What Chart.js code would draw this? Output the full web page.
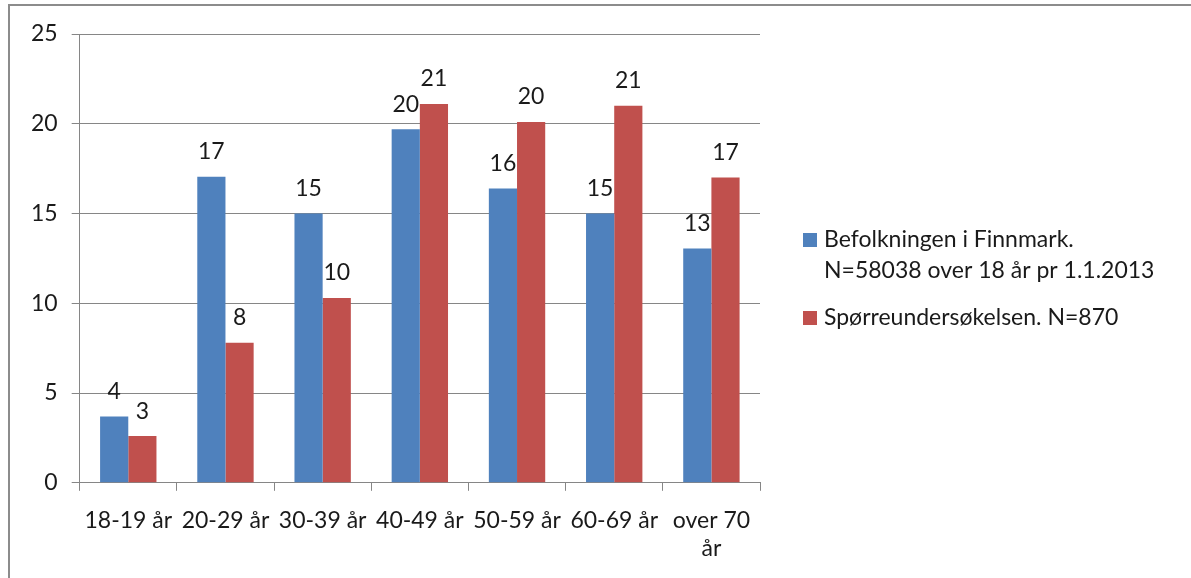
<!DOCTYPE html>
<html><head><meta charset="utf-8">
<script src="https://cdn.jsdelivr.net/npm/chart.js@4/dist/chart.umd.min.js"></script>
<style>
html,body{margin:0;padding:0;background:#fff;}
#wrap{position:relative;width:1191px;height:578px;overflow:hidden;}
canvas{position:absolute;left:0;top:0;}
</style></head><body>
<div id="wrap"><canvas id="c" width="1191" height="578"></canvas></div>
<script>
// Age groups and percentage shares
const categories = ['18-19 år', '20-29 år', '30-39 år', '40-49 år', '50-59 år', '60-69 år', ['over 70', 'år']];
const befolkning = [3.7, 17.05, 15.0, 19.7, 16.4, 15.0, 13.05];
const undersokelse = [2.6, 7.8, 10.3, 21.1, 20.1, 21.0, 17.0];
const seriesNames = [
  ['Befolkningen i Finnmark.', 'N=58038 over 18 år pr 1.1.2013'],
  ['Spørreundersøkelsen. N=870']
];
const yTicks = [0, 5, 10, 15, 20, 25];

const BLUE = '#4F81BD';
const RED = '#C0504D';
const GRID = '#868686';
const TEXT = '#1a1a1a';
const FONT = { family: 'Lato, "Open Sans", sans-serif', size: 23 };

// Outer frame around the chart
const framePlugin = {
  id: 'frame',
  beforeDraw(chart) {
    const ctx = chart.ctx;
    ctx.save();
    ctx.fillStyle = '#fff';
    ctx.fillRect(0, 0, chart.width, chart.height);
    ctx.strokeStyle = '#8c8c8c';
    ctx.lineWidth = 2;
    ctx.beginPath();
    ctx.moveTo(9, chart.height);
    ctx.lineTo(9, 5);
    ctx.lineTo(chart.width, 5);
    ctx.stroke();
    ctx.restore();
  }
};

// Rounded value labels above each bar
const valueLabels = {
  id: 'valueLabels',
  afterDatasetsDraw(chart) {
    const ctx = chart.ctx;
    ctx.save();
    ctx.font = FONT.size + 'px ' + FONT.family;
    ctx.fillStyle = TEXT;
    ctx.textAlign = 'center';
    ctx.textBaseline = 'middle';
    chart.data.datasets.forEach((ds, i) => {
      chart.getDatasetMeta(i).data.forEach((bar, j) => {
        ctx.fillText(String(Math.round(ds.data[j])), bar.x, bar.y - 25);
      });
    });
    ctx.restore();
  }
};

// Legend on the right, with multi-line entries
const sideLegend = {
  id: 'sideLegend',
  afterDraw(chart) {
    const ctx = chart.ctx;
    const x0 = 803;
    const tops = [240, 318];
    ctx.save();
    ctx.font = FONT.size + 'px ' + FONT.family;
    ctx.textBaseline = 'middle';
    ctx.textAlign = 'left';
    chart.data.datasets.forEach((ds, i) => {
      const y = tops[i];
      ctx.fillStyle = ds.backgroundColor;
      ctx.fillRect(x0, y - 7, 14, 14);
      ctx.fillStyle = TEXT;
      const lines = Array.isArray(ds.label) ? ds.label : [ds.label];
      lines.forEach((ln, k) => ctx.fillText(ln, x0 + 21, y + k * 31));
    });
    ctx.restore();
  }
};

new Chart(document.getElementById('c'), {
  type: 'bar',
  data: {
    labels: categories,
    datasets: [
      { label: seriesNames[0], data: befolkning, backgroundColor: BLUE, categoryPercentage: 0.58, barPercentage: 1.0 },
      { label: seriesNames[1], data: undersokelse, backgroundColor: RED, categoryPercentage: 0.58, barPercentage: 1.0 }
    ]
  },
  options: {
    responsive: false,
    animation: false,
    layout: { padding: { left: 17, top: 34, right: 431, bottom: 0 } },
    plugins: { legend: { display: false }, tooltip: { enabled: false } },
    scales: {
      x: {
        grid: { drawOnChartArea: false, offset: true, tickLength: 8, color: GRID },
        border: { color: GRID },
        ticks: { font: FONT, color: TEXT, padding: 16, maxRotation: 0, autoSkip: false }
      },
      y: {
        min: yTicks[0],
        max: yTicks[yTicks.length - 1],
        afterBuildTicks(scale) { scale.ticks = yTicks.map(v => ({ value: v })); },
        grid: { color: GRID, tickLength: 8 },
        border: { color: GRID },
        ticks: { font: FONT, color: TEXT, padding: 14 }
      }
    }
  },
  plugins: [framePlugin, valueLabels, sideLegend]
});
</script>
</body></html>
